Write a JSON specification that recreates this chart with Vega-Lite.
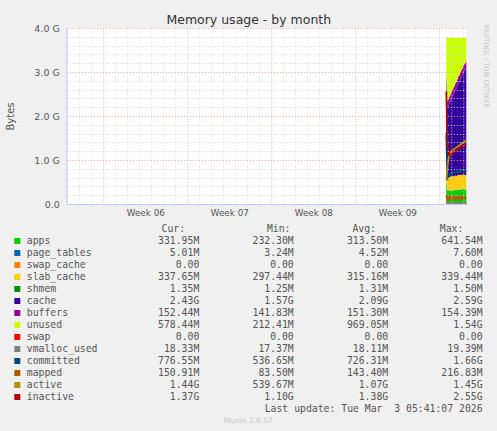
{
  "$schema": "https://vega.github.io/schema/vega-lite/v6.json",
  "autosize": {"type": "pad"},
  "padding": {"left": 5.3, "top": 13, "right": 10, "bottom": 10},
  "background": "#f0f0f0",
  "spacing": 0,
  "bounds": "flush",
  "config": {"view": {"stroke": null}, "font": "DejaVu Sans"},
  "datasets": {
    "mem": [
      {"t": "2026-03-01T14:00:00", "apps": 0.600, "page_tables": 0.007, "swap_cache": 0, "slab_cache": 0.330, "shmem": 0.0015, "cache": 1.980, "buffers": 0.148, "unused": 0.714, "swap": 0, "vmalloc_used": 0.019, "committed": 1.62, "mapped": 0.20, "active": 0.53, "inactive": 2.55},
      {"t": "2026-03-01T16:00:00", "apps": 0.310, "page_tables": 0.005, "swap_cache": 0, "slab_cache": 0.300, "shmem": 0.0013, "cache": 1.570, "buffers": 0.142, "unused": 1.452, "swap": 0, "vmalloc_used": 0.017, "committed": 0.55, "mapped": 0.09, "active": 0.80, "inactive": 1.45},
      {"t": "2026-03-01T18:00:00", "apps": 0.300, "page_tables": 0.005, "swap_cache": 0, "slab_cache": 0.300, "shmem": 0.0013, "cache": 1.610, "buffers": 0.145, "unused": 1.419, "swap": 0, "vmalloc_used": 0.018, "committed": 0.62, "mapped": 0.16, "active": 1.00, "inactive": 1.22},
      {"t": "2026-03-01T20:00:00", "apps": 0.310, "page_tables": 0.005, "swap_cache": 0, "slab_cache": 0.310, "shmem": 0.0013, "cache": 1.660, "buffers": 0.147, "unused": 1.347, "swap": 0, "vmalloc_used": 0.018, "committed": 0.66, "mapped": 0.12, "active": 1.10, "inactive": 1.12},
      {"t": "2026-03-01T22:00:00", "apps": 0.300, "page_tables": 0.005, "swap_cache": 0, "slab_cache": 0.310, "shmem": 0.0013, "cache": 1.710, "buffers": 0.148, "unused": 1.306, "swap": 0, "vmalloc_used": 0.018, "committed": 0.70, "mapped": 0.17, "active": 1.16, "inactive": 1.10},
      {"t": "2026-03-02T00:00:00", "apps": 0.320, "page_tables": 0.005, "swap_cache": 0, "slab_cache": 0.310, "shmem": 0.0013, "cache": 1.750, "buffers": 0.149, "unused": 1.245, "swap": 0, "vmalloc_used": 0.018, "committed": 0.68, "mapped": 0.12, "active": 1.19, "inactive": 1.12},
      {"t": "2026-03-02T02:00:00", "apps": 0.310, "page_tables": 0.005, "swap_cache": 0, "slab_cache": 0.320, "shmem": 0.0013, "cache": 1.800, "buffers": 0.150, "unused": 1.194, "swap": 0, "vmalloc_used": 0.018, "committed": 0.72, "mapped": 0.16, "active": 1.21, "inactive": 1.16},
      {"t": "2026-03-02T04:00:00", "apps": 0.300, "page_tables": 0.005, "swap_cache": 0, "slab_cache": 0.320, "shmem": 0.0013, "cache": 1.850, "buffers": 0.150, "unused": 1.154, "swap": 0, "vmalloc_used": 0.018, "committed": 0.70, "mapped": 0.11, "active": 1.23, "inactive": 1.19},
      {"t": "2026-03-02T06:00:00", "apps": 0.310, "page_tables": 0.005, "swap_cache": 0, "slab_cache": 0.320, "shmem": 0.0013, "cache": 1.890, "buffers": 0.150, "unused": 1.104, "swap": 0, "vmalloc_used": 0.018, "committed": 0.73, "mapped": 0.17, "active": 1.25, "inactive": 1.18},
      {"t": "2026-03-02T08:00:00", "apps": 0.320, "page_tables": 0.005, "swap_cache": 0, "slab_cache": 0.320, "shmem": 0.0013, "cache": 1.940, "buffers": 0.151, "unused": 1.043, "swap": 0, "vmalloc_used": 0.018, "committed": 0.71, "mapped": 0.12, "active": 1.27, "inactive": 1.21},
      {"t": "2026-03-02T10:00:00", "apps": 0.310, "page_tables": 0.005, "swap_cache": 0, "slab_cache": 0.320, "shmem": 0.0013, "cache": 1.980, "buffers": 0.151, "unused": 1.013, "swap": 0, "vmalloc_used": 0.018, "committed": 0.74, "mapped": 0.16, "active": 1.28, "inactive": 1.24},
      {"t": "2026-03-02T12:00:00", "apps": 0.320, "page_tables": 0.005, "swap_cache": 0, "slab_cache": 0.320, "shmem": 0.0013, "cache": 2.030, "buffers": 0.151, "unused": 0.953, "swap": 0, "vmalloc_used": 0.018, "committed": 0.72, "mapped": 0.12, "active": 1.30, "inactive": 1.23},
      {"t": "2026-03-02T14:00:00", "apps": 0.330, "page_tables": 0.005, "swap_cache": 0, "slab_cache": 0.330, "shmem": 0.0013, "cache": 2.080, "buffers": 0.151, "unused": 0.883, "swap": 0, "vmalloc_used": 0.018, "committed": 0.75, "mapped": 0.17, "active": 1.31, "inactive": 1.26},
      {"t": "2026-03-02T16:00:00", "apps": 0.320, "page_tables": 0.005, "swap_cache": 0, "slab_cache": 0.330, "shmem": 0.0013, "cache": 2.120, "buffers": 0.152, "unused": 0.852, "swap": 0, "vmalloc_used": 0.018, "committed": 0.73, "mapped": 0.12, "active": 1.33, "inactive": 1.28},
      {"t": "2026-03-02T18:00:00", "apps": 0.330, "page_tables": 0.005, "swap_cache": 0, "slab_cache": 0.330, "shmem": 0.0013, "cache": 2.170, "buffers": 0.152, "unused": 0.792, "swap": 0, "vmalloc_used": 0.018, "committed": 0.76, "mapped": 0.16, "active": 1.35, "inactive": 1.27},
      {"t": "2026-03-02T20:00:00", "apps": 0.320, "page_tables": 0.005, "swap_cache": 0, "slab_cache": 0.330, "shmem": 0.0013, "cache": 2.220, "buffers": 0.152, "unused": 0.752, "swap": 0, "vmalloc_used": 0.018, "committed": 0.74, "mapped": 0.12, "active": 1.36, "inactive": 1.30},
      {"t": "2026-03-02T22:00:00", "apps": 0.330, "page_tables": 0.005, "swap_cache": 0, "slab_cache": 0.330, "shmem": 0.0013, "cache": 2.260, "buffers": 0.152, "unused": 0.702, "swap": 0, "vmalloc_used": 0.018, "committed": 0.76, "mapped": 0.17, "active": 1.38, "inactive": 1.32},
      {"t": "2026-03-03T00:00:00", "apps": 0.340, "page_tables": 0.005, "swap_cache": 0, "slab_cache": 0.330, "shmem": 0.0013, "cache": 2.310, "buffers": 0.152, "unused": 0.642, "swap": 0, "vmalloc_used": 0.018, "committed": 0.75, "mapped": 0.12, "active": 1.40, "inactive": 1.31},
      {"t": "2026-03-03T02:00:00", "apps": 0.330, "page_tables": 0.005, "swap_cache": 0, "slab_cache": 0.330, "shmem": 0.0013, "cache": 2.360, "buffers": 0.152, "unused": 0.602, "swap": 0, "vmalloc_used": 0.018, "committed": 0.77, "mapped": 0.16, "active": 1.41, "inactive": 1.34},
      {"t": "2026-03-03T04:00:00", "apps": 0.320, "page_tables": 0.005, "swap_cache": 0, "slab_cache": 0.330, "shmem": 0.0013, "cache": 2.400, "buffers": 0.152, "unused": 0.572, "swap": 0, "vmalloc_used": 0.018, "committed": 0.75, "mapped": 0.13, "active": 1.43, "inactive": 1.36},
      {"t": "2026-03-03T06:00:00", "apps": 0.324, "page_tables": 0.005, "swap_cache": 0, "slab_cache": 0.330, "shmem": 0.0013, "cache": 2.430, "buffers": 0.149, "unused": 0.541, "swap": 0, "vmalloc_used": 0.018, "committed": 0.76, "mapped": 0.147, "active": 1.44, "inactive": 1.37}
    ],
    "legend": [
      {"name": "apps", "cur": "331.95M", "min": "232.30M", "avg": "313.50M", "max": "641.54M"},
      {"name": "page_tables", "cur": "5.01M", "min": "3.24M", "avg": "4.52M", "max": "7.60M"},
      {"name": "swap_cache", "cur": "0.00", "min": "0.00", "avg": "0.00", "max": "0.00"},
      {"name": "slab_cache", "cur": "337.65M", "min": "297.44M", "avg": "315.16M", "max": "339.44M"},
      {"name": "shmem", "cur": "1.35M", "min": "1.25M", "avg": "1.31M", "max": "1.50M"},
      {"name": "cache", "cur": "2.43G", "min": "1.57G", "avg": "2.09G", "max": "2.59G"},
      {"name": "buffers", "cur": "152.44M", "min": "141.83M", "avg": "151.30M", "max": "154.39M"},
      {"name": "unused", "cur": "578.44M", "min": "212.41M", "avg": "969.05M", "max": "1.54G"},
      {"name": "swap", "cur": "0.00", "min": "0.00", "avg": "0.00", "max": "0.00"},
      {"name": "vmalloc_used", "cur": "18.33M", "min": "17.37M", "avg": "18.11M", "max": "19.39M"},
      {"name": "committed", "cur": "776.55M", "min": "536.65M", "avg": "726.31M", "max": "1.66G"},
      {"name": "mapped", "cur": "150.91M", "min": "83.50M", "avg": "143.40M", "max": "216.83M"},
      {"name": "active", "cur": "1.44G", "min": "539.67M", "avg": "1.07G", "max": "1.45G"},
      {"name": "inactive", "cur": "1.37G", "min": "1.10G", "avg": "1.38G", "max": "2.55G"}
    ],
    "hdr": [
      {"row": "hdr", "col": "cur", "label": "Cur:"},
      {"row": "hdr", "col": "min", "label": "Min:"},
      {"row": "hdr", "col": "avg", "label": "Avg:"},
      {"row": "hdr", "col": "max", "label": "Max:"}
    ],
    "foot": [
      {"row": "upd", "text": "Last update: Tue Mar\u00a0 3 05:41:07 2026"},
      {"row": "munin", "text": "Munin 2.0.57"}
    ]
  },
  "vconcat": [
    {
      "width": 400,
      "height": 176,
      "view": {"fill": "white", "stroke": null},
      "title": {"text": "Memory usage - by month", "font": "DejaVu Sans", "fontSize": 12.5, "fontWeight": "normal", "color": "#333333", "anchor": "middle", "dx": -17.5, "offset": -3},
      "data": {"name": "mem"},
      "layer": [
        {
          "transform": [
            {"fold": ["apps", "page_tables", "swap_cache", "slab_cache", "shmem", "cache", "buffers", "unused"], "as": ["series", "v"]},
            {"calculate": "indexof(['apps','page_tables','swap_cache','slab_cache','shmem','cache','buffers','unused'], datum.series)", "as": "o"}
          ],
          "mark": {"type": "area", "opacity": 1},
          "encoding": {
            "x": {
              "field": "t", "type": "temporal",
              "scale": {"domain": [{"year": 2026, "month": 1, "date": 28, "hours": 22}, {"year": 2026, "month": 3, "date": 3, "hours": 6}]},
              "axis": {
                "title": null,
                "tickCount": {"interval": "day", "step": 1},
                "labelExpr": "day(datum.value) == 3 ? 'Week ' + timeFormat(datum.value, '%V') : ''",
                "labelOffset": 6, "labelOverlap": false, "labelFlush": false,
                "labelFont": "DejaVu Sans", "labelFontSize": 8.8, "labelColor": "#555555", "labelPadding": 4,
                "ticks": false,
                "grid": true,
                "gridColor": {"condition": {"test": "day(datum.value) == 0", "value": "#e8a0a0"}, "value": "#d4d4d4"},
                "gridDash": [1, 2],
                "domainColor": "#c4c8f0", "zindex": 1
              }
            },
            "y": {
              "field": "v", "type": "quantitative", "stack": "zero",
              "scale": {"domain": [0, 4], "nice": false},
              "axis": {
                "title": "Bytes", "titleFont": "DejaVu Sans", "titleFontSize": 10, "titleFontWeight": "normal", "titleColor": "#555555", "titlePadding": 18.2,
                "tickCount": 20,
                "labelExpr": "datum.value == 0 ? '0.0' : (abs(datum.value - round(datum.value)) < 0.001 ? format(datum.value, '.1f') + ' G' : '')",
                "labelOverlap": false, "labelFont": "DejaVu Sans", "labelFontSize": 9.5, "labelColor": "#555555", "labelPadding": 7,
                "ticks": false,
                "grid": true,
                "gridColor": {"condition": {"test": "abs(datum.value - round(datum.value)) < 0.001", "value": "#e8a0a0"}, "value": "#d4d4d4"},
                "gridDash": [1, 2],
                "domainColor": "#c4c8f0", "zindex": 1
              }
            },
            "color": {
              "field": "series", "type": "nominal", "legend": null,
              "scale": {
                "domain": ["apps", "page_tables", "swap_cache", "slab_cache", "shmem", "cache", "buffers", "unused", "swap", "vmalloc_used", "committed", "mapped", "active", "inactive"],
                "range": ["#00CC00", "#0066B3", "#FF8000", "#FFCC00", "#008F00", "#330099", "#990099", "#CCFF00", "#FF0000", "#808080", "#00487D", "#B35A00", "#B38F00", "#B30000"]
              }
            },
            "order": {"field": "o", "type": "quantitative"}
          }
        },
        {
          "transform": [
            {"fold": ["swap", "vmalloc_used", "committed", "mapped", "active", "inactive"], "as": ["series", "v"]}
          ],
          "mark": {"type": "line", "strokeWidth": 1.8},
          "encoding": {
            "x": {
              "field": "t", "type": "temporal",
              "scale": {"domain": [{"year": 2026, "month": 1, "date": 28, "hours": 22}, {"year": 2026, "month": 3, "date": 3, "hours": 6}]},
              "axis": {
                "title": null,
                "tickCount": {"interval": "day", "step": 1},
                "labelExpr": "day(datum.value) == 3 ? 'Week ' + timeFormat(datum.value, '%V') : ''",
                "labelOffset": 6, "labelOverlap": false, "labelFlush": false,
                "labelFont": "DejaVu Sans", "labelFontSize": 8.8, "labelColor": "#555555", "labelPadding": 4,
                "ticks": false,
                "grid": true,
                "gridColor": {"condition": {"test": "day(datum.value) == 0", "value": "#e8a0a0"}, "value": "#d4d4d4"},
                "gridDash": [1, 2],
                "domainColor": "#c4c8f0", "zindex": 1
              }
            },
            "y": {
              "field": "v", "type": "quantitative",
              "scale": {"domain": [0, 4], "nice": false},
              "axis": {
                "title": "Bytes", "titleFont": "DejaVu Sans", "titleFontSize": 10, "titleFontWeight": "normal", "titleColor": "#555555", "titlePadding": 18.2,
                "tickCount": 20,
                "labelExpr": "datum.value == 0 ? '0.0' : (abs(datum.value - round(datum.value)) < 0.001 ? format(datum.value, '.1f') + ' G' : '')",
                "labelOverlap": false, "labelFont": "DejaVu Sans", "labelFontSize": 9.5, "labelColor": "#555555", "labelPadding": 7,
                "ticks": false,
                "grid": true,
                "gridColor": {"condition": {"test": "abs(datum.value - round(datum.value)) < 0.001", "value": "#e8a0a0"}, "value": "#d4d4d4"},
                "gridDash": [1, 2],
                "domainColor": "#c4c8f0", "zindex": 1
              }
            },
            "color": {
              "field": "series", "type": "nominal", "legend": null,
              "scale": {
                "domain": ["apps", "page_tables", "swap_cache", "slab_cache", "shmem", "cache", "buffers", "unused", "swap", "vmalloc_used", "committed", "mapped", "active", "inactive"],
                "range": ["#00CC00", "#0066B3", "#FF8000", "#FFCC00", "#008F00", "#330099", "#990099", "#CCFF00", "#FF0000", "#808080", "#00487D", "#B35A00", "#B38F00", "#B30000"]
              }
            }
          }
        }
      ]
    },
    {
      "width": 400,
      "height": 220,
      "view": {"stroke": null},
      "layer": [
        {
          "data": {"name": "legend"},
          "mark": {"type": "square", "size": 36, "filled": true, "opacity": 1, "xOffset": -182},
          "encoding": {
            "x": {"datum": "cur", "type": "nominal", "axis": null, "scale": {"type": "point", "domain": ["cur", "min", "avg", "max"], "range": [133, 416.3], "padding": 0}},
            "y": {"field": "name", "type": "nominal", "scale": {"type": "point", "domain": ["hdr", "apps", "page_tables", "swap_cache", "slab_cache", "shmem", "cache", "buffers", "unused", "swap", "vmalloc_used", "committed", "mapped", "active", "inactive", "upd", "munin"], "range": [25, 217], "padding": 0},
              "axis": {"orient": "right", "title": "RRDTOOL / TOBI OETIKER", "labels": false, "ticks": false, "domain": false, "grid": false, "titleAngle": 90, "titleX": 19.5, "titleY": -138.5, "titleAlign": "center", "titleBaseline": "middle", "titleColor": "#c4c4c4", "titleFont": "DejaVu Sans", "titleFontSize": 6.5, "titleFontWeight": "normal"}},
            "color": {
              "field": "name", "type": "nominal", "legend": null,
              "scale": {
                "domain": ["apps", "page_tables", "swap_cache", "slab_cache", "shmem", "cache", "buffers", "unused", "swap", "vmalloc_used", "committed", "mapped", "active", "inactive"],
                "range": ["#00CC00", "#0066B3", "#FF8000", "#FFCC00", "#008F00", "#330099", "#990099", "#CCFF00", "#FF0000", "#808080", "#00487D", "#B35A00", "#B38F00", "#B30000"]
              }
            }
          }
        },
        {
          "data": {"name": "legend"},
          "mark": {"type": "text", "align": "left", "baseline": "middle", "dx": -172.5, "font": "DejaVu Sans Mono", "fontSize": 9.8, "color": "#555555"},
          "encoding": {
            "x": {"datum": "cur", "type": "nominal", "axis": null, "scale": {"type": "point", "domain": ["cur", "min", "avg", "max"], "range": [133, 416.3], "padding": 0}},
            "y": {"field": "name", "type": "nominal", "scale": {"type": "point", "domain": ["hdr", "apps", "page_tables", "swap_cache", "slab_cache", "shmem", "cache", "buffers", "unused", "swap", "vmalloc_used", "committed", "mapped", "active", "inactive", "upd", "munin"], "range": [25, 217], "padding": 0},
              "axis": {"orient": "right", "title": "RRDTOOL / TOBI OETIKER", "labels": false, "ticks": false, "domain": false, "grid": false, "titleAngle": 90, "titleX": 19.5, "titleY": -138.5, "titleAlign": "center", "titleBaseline": "middle", "titleColor": "#c4c4c4", "titleFont": "DejaVu Sans", "titleFontSize": 6.5, "titleFontWeight": "normal"}},
            "text": {"field": "name"}
          }
        },
        {
          "data": {"name": "legend"},
          "transform": [{"fold": ["cur", "min", "avg", "max"], "as": ["col", "val"]}],
          "mark": {"type": "text", "align": "right", "baseline": "middle", "font": "DejaVu Sans Mono", "fontSize": 9.8, "color": "#555555"},
          "encoding": {
            "x": {"field": "col", "type": "nominal", "axis": null, "scale": {"type": "point", "domain": ["cur", "min", "avg", "max"], "range": [133, 416.3], "padding": 0}},
            "y": {"field": "name", "type": "nominal", "scale": {"type": "point", "domain": ["hdr", "apps", "page_tables", "swap_cache", "slab_cache", "shmem", "cache", "buffers", "unused", "swap", "vmalloc_used", "committed", "mapped", "active", "inactive", "upd", "munin"], "range": [25, 217], "padding": 0},
              "axis": {"orient": "right", "title": "RRDTOOL / TOBI OETIKER", "labels": false, "ticks": false, "domain": false, "grid": false, "titleAngle": 90, "titleX": 19.5, "titleY": -138.5, "titleAlign": "center", "titleBaseline": "middle", "titleColor": "#c4c4c4", "titleFont": "DejaVu Sans", "titleFontSize": 6.5, "titleFontWeight": "normal"}},
            "text": {"field": "val"}
          }
        },
        {
          "data": {"name": "hdr"},
          "transform": [{"filter": "datum.col == 'cur'"}],
          "mark": {"type": "text", "align": "center", "baseline": "middle", "dx": -26, "font": "DejaVu Sans Mono", "fontSize": 9.8, "color": "#555555"},
          "encoding": {
            "x": {"field": "col", "type": "nominal", "axis": null, "scale": {"type": "point", "domain": ["cur", "min", "avg", "max"], "range": [133, 416.3], "padding": 0}},
            "y": {"field": "row", "type": "nominal", "scale": {"type": "point", "domain": ["hdr", "apps", "page_tables", "swap_cache", "slab_cache", "shmem", "cache", "buffers", "unused", "swap", "vmalloc_used", "committed", "mapped", "active", "inactive", "upd", "munin"], "range": [25, 217], "padding": 0},
              "axis": {"orient": "right", "title": "RRDTOOL / TOBI OETIKER", "labels": false, "ticks": false, "domain": false, "grid": false, "titleAngle": 90, "titleX": 19.5, "titleY": -138.5, "titleAlign": "center", "titleBaseline": "middle", "titleColor": "#c4c4c4", "titleFont": "DejaVu Sans", "titleFontSize": 6.5, "titleFontWeight": "normal"}},
            "text": {"field": "label"}
          }
        },
        {
          "data": {"name": "hdr"},
          "transform": [{"filter": "datum.col == 'min'"}],
          "mark": {"type": "text", "align": "center", "baseline": "middle", "dx": -15, "font": "DejaVu Sans Mono", "fontSize": 9.8, "color": "#555555"},
          "encoding": {
            "x": {"field": "col", "type": "nominal", "axis": null, "scale": {"type": "point", "domain": ["cur", "min", "avg", "max"], "range": [133, 416.3], "padding": 0}},
            "y": {"field": "row", "type": "nominal", "scale": {"type": "point", "domain": ["hdr", "apps", "page_tables", "swap_cache", "slab_cache", "shmem", "cache", "buffers", "unused", "swap", "vmalloc_used", "committed", "mapped", "active", "inactive", "upd", "munin"], "range": [25, 217], "padding": 0},
              "axis": {"orient": "right", "title": "RRDTOOL / TOBI OETIKER", "labels": false, "ticks": false, "domain": false, "grid": false, "titleAngle": 90, "titleX": 19.5, "titleY": -138.5, "titleAlign": "center", "titleBaseline": "middle", "titleColor": "#c4c4c4", "titleFont": "DejaVu Sans", "titleFontSize": 6.5, "titleFontWeight": "normal"}},
            "text": {"field": "label"}
          }
        },
        {
          "data": {"name": "hdr"},
          "transform": [{"filter": "datum.col == 'avg'"}],
          "mark": {"type": "text", "align": "center", "baseline": "middle", "dx": -24, "font": "DejaVu Sans Mono", "fontSize": 9.8, "color": "#555555"},
          "encoding": {
            "x": {"field": "col", "type": "nominal", "axis": null, "scale": {"type": "point", "domain": ["cur", "min", "avg", "max"], "range": [133, 416.3], "padding": 0}},
            "y": {"field": "row", "type": "nominal", "scale": {"type": "point", "domain": ["hdr", "apps", "page_tables", "swap_cache", "slab_cache", "shmem", "cache", "buffers", "unused", "swap", "vmalloc_used", "committed", "mapped", "active", "inactive", "upd", "munin"], "range": [25, 217], "padding": 0},
              "axis": {"orient": "right", "title": "RRDTOOL / TOBI OETIKER", "labels": false, "ticks": false, "domain": false, "grid": false, "titleAngle": 90, "titleX": 19.5, "titleY": -138.5, "titleAlign": "center", "titleBaseline": "middle", "titleColor": "#c4c4c4", "titleFont": "DejaVu Sans", "titleFontSize": 6.5, "titleFontWeight": "normal"}},
            "text": {"field": "label"}
          }
        },
        {
          "data": {"name": "hdr"},
          "transform": [{"filter": "datum.col == 'max'"}],
          "mark": {"type": "text", "align": "center", "baseline": "middle", "dx": -31, "font": "DejaVu Sans Mono", "fontSize": 9.8, "color": "#555555"},
          "encoding": {
            "x": {"field": "col", "type": "nominal", "axis": null, "scale": {"type": "point", "domain": ["cur", "min", "avg", "max"], "range": [133, 416.3], "padding": 0}},
            "y": {"field": "row", "type": "nominal", "scale": {"type": "point", "domain": ["hdr", "apps", "page_tables", "swap_cache", "slab_cache", "shmem", "cache", "buffers", "unused", "swap", "vmalloc_used", "committed", "mapped", "active", "inactive", "upd", "munin"], "range": [25, 217], "padding": 0},
              "axis": {"orient": "right", "title": "RRDTOOL / TOBI OETIKER", "labels": false, "ticks": false, "domain": false, "grid": false, "titleAngle": 90, "titleX": 19.5, "titleY": -138.5, "titleAlign": "center", "titleBaseline": "middle", "titleColor": "#c4c4c4", "titleFont": "DejaVu Sans", "titleFontSize": 6.5, "titleFontWeight": "normal"}},
            "text": {"field": "label"}
          }
        },
        {
          "data": {"name": "foot"},
          "transform": [{"filter": "datum.row == 'upd'"}],
          "mark": {"type": "text", "align": "right", "baseline": "middle", "font": "DejaVu Sans Mono", "fontSize": 9.8, "color": "#555555"},
          "encoding": {
            "x": {"datum": "max", "type": "nominal", "axis": null, "scale": {"type": "point", "domain": ["cur", "min", "avg", "max"], "range": [133, 416.3], "padding": 0}},
            "y": {"field": "row", "type": "nominal", "scale": {"type": "point", "domain": ["hdr", "apps", "page_tables", "swap_cache", "slab_cache", "shmem", "cache", "buffers", "unused", "swap", "vmalloc_used", "committed", "mapped", "active", "inactive", "upd", "munin"], "range": [25, 217], "padding": 0},
              "axis": {"orient": "right", "title": "RRDTOOL / TOBI OETIKER", "labels": false, "ticks": false, "domain": false, "grid": false, "titleAngle": 90, "titleX": 19.5, "titleY": -138.5, "titleAlign": "center", "titleBaseline": "middle", "titleColor": "#c4c4c4", "titleFont": "DejaVu Sans", "titleFontSize": 6.5, "titleFontWeight": "normal"}},
            "text": {"field": "text"}
          }
        },
        {
          "data": {"name": "foot"},
          "transform": [{"filter": "datum.row == 'munin'"}],
          "mark": {"type": "text", "align": "center", "baseline": "middle", "dx": 49, "font": "DejaVu Sans", "fontSize": 7.5, "color": "#c8c8c8"},
          "encoding": {
            "x": {"datum": "cur", "type": "nominal", "axis": null, "scale": {"type": "point", "domain": ["cur", "min", "avg", "max"], "range": [133, 416.3], "padding": 0}},
            "y": {"field": "row", "type": "nominal", "scale": {"type": "point", "domain": ["hdr", "apps", "page_tables", "swap_cache", "slab_cache", "shmem", "cache", "buffers", "unused", "swap", "vmalloc_used", "committed", "mapped", "active", "inactive", "upd", "munin"], "range": [25, 217], "padding": 0},
              "axis": {"orient": "right", "title": "RRDTOOL / TOBI OETIKER", "labels": false, "ticks": false, "domain": false, "grid": false, "titleAngle": 90, "titleX": 19.5, "titleY": -138.5, "titleAlign": "center", "titleBaseline": "middle", "titleColor": "#c4c4c4", "titleFont": "DejaVu Sans", "titleFontSize": 6.5, "titleFontWeight": "normal"}},
            "text": {"field": "text"}
          }
        }
      ]
    }
  ]
}
